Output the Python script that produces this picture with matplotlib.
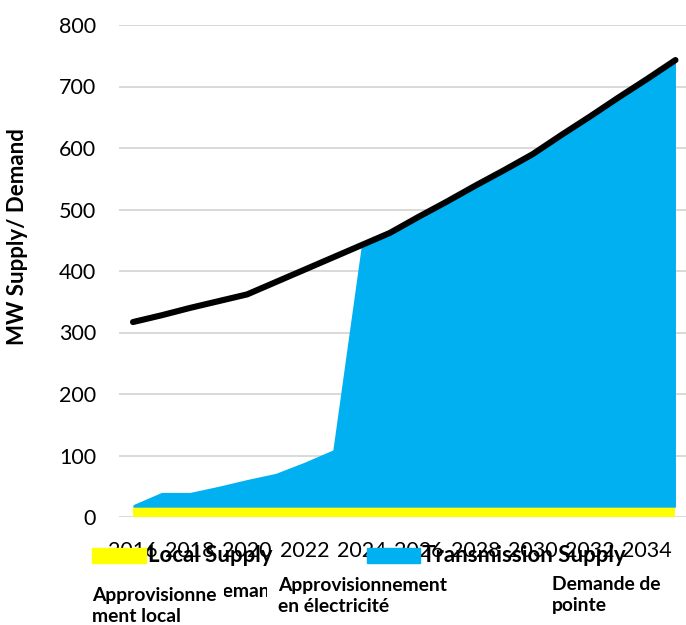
import matplotlib
matplotlib.use("Agg")
import matplotlib.pyplot as plt
from matplotlib.patches import Rectangle
from matplotlib.transforms import Bbox, TransformedBbox

plt.rcParams["font.family"] = ["Lato", "DejaVu Sans"]

years = list(range(2016, 2036))
tick_years = list(range(2016, 2035, 2))
local_supply = [16] * 20
transmission_supply = [4, 24, 24, 34, 45, 55, 73, 93,
                       426, 446, 472, 497, 523, 548, 574,
                       605, 635, 666, 696, 727]
peak_demand = [317, 328, 340, 351, 362, 382, 402, 422, 442, 462,
               488, 513, 539, 564, 590, 621, 651, 682, 712, 743]
y_ticks = [0, 100, 200, 300, 400, 500, 600, 700, 800]

W, H = 686, 625
fig = plt.figure(figsize=(W / 100, H / 100), dpi=100)

# axes box in pixel units (left, top, right, bottom)
L, T, R, B = 119, 25, 686, 517
ax = fig.add_axes([L / W, 1 - B / H, (R - L) / W, (B - T) / H])

total_supply = [a + b for a, b in zip(local_supply, transmission_supply)]
ax.fill_between(years, 0, local_supply, color="#FFFF00", lw=0, zorder=2)
ax.fill_between(years, local_supply, total_supply, color="#00B0F0", lw=0, zorder=2)
ax.plot(years, peak_demand, color="black", lw=4.4,
        solid_capstyle="round", solid_joinstyle="round", zorder=3)

px_per_year = 28.55
ax.set_xlim(2016 - (133 - L) / px_per_year, 2016 + (R - 133) / px_per_year)
ax.set_ylim(0, 800)
ax.set_yticks(y_ticks)
ax.set_xticks(tick_years)
ax.set_xticklabels([str(y) for y in tick_years])
ax.yaxis.grid(True, color="#D9D9D9", lw=1.4, zorder=0)
ax.set_axisbelow(True)
for s in ax.spines.values():
    s.set_visible(False)
ax.tick_params(axis="y", length=0, pad=16.5, labelsize=15.5, labelcolor="black")
ax.tick_params(axis="x", length=0, pad=17, labelsize=15.5, labelcolor="black")

fig.text(17.5 / W, 1 - 237 / H, "MW Supply/ Demand", rotation=90,
         ha="center", va="center", fontsize=16, fontweight="bold")

def fx(x):
    return x / W

def fy(y):
    return 1 - y / H

# legend swatches and labels
fig.patches.append(Rectangle((fx(92), fy(563)), (146 - 92) / W, 15 / H,
                             transform=fig.transFigure, color="#FFFF00", zorder=5))
fig.text(fx(148), fy(562), "Local Supply", ha="left", va="baseline",
         fontsize=16, fontweight="bold", zorder=6)
fig.patches.append(Rectangle((fx(367), fy(563)), (420 - 367) / W, 15 / H,
                             transform=fig.transFigure, color="#00B0F0", zorder=5))
fig.text(fx(422), fy(562), "Transmission Supply", ha="left", va="baseline",
         fontsize=16, fontweight="bold", zorder=6)

# French captions
cap_kw = dict(ha="left", va="baseline", fontsize=13.9, fontweight="bold",
              linespacing=1.25, zorder=6)
fig.text(fx(92), fy(622), "Approvisionne\nment local", **cap_kw)
fig.text(fx(278), fy(612), "Approvisionnement\nen électricité", **cap_kw)
fig.text(fx(552), fy(611), "Demande de\npointe", **cap_kw)

# partially hidden caption between the two left captions
dem = fig.text(fx(209), fy(597), "Demand", ha="left", va="baseline",
               fontsize=13.9, fontweight="bold", zorder=6)
dem.set_clip_box(TransformedBbox(Bbox([[fx(224), 0], [fx(267), 1]]), fig.transFigure))
dem.set_clip_on(True)

fig.savefig("out.png", dpi=100)
